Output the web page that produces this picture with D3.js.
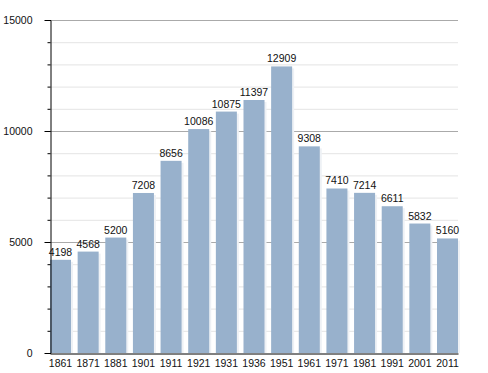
<!DOCTYPE html>
<html>
<head>
<meta charset="utf-8">
<script src="https://cdn.jsdelivr.net/npm/d3@7"></script>
<style>
  body { margin: 0; background: #fff; }
  svg text { font-family: "Liberation Sans", Arial, sans-serif; font-size: 10.5px; fill: #111; }
</style>
</head>
<body>
<svg id="chart"></svg>
<script>
// population by census year
var years = ["1861", "1871", "1881", "1901", "1911", "1921", "1931", "1936", "1951", "1961", "1971", "1981", "1991", "2001", "2011"];
var population = [4198, 4568, 5200, 7208, 8656, 10086, 10875, 11397, 12909, 9308, 7410, 7214, 6611, 5832, 5160];
var majorTicks = [0, 5000, 10000, 15000];
var minorTicks = d3.range(0, 15001, 1000);

var width = 488, height = 373;
var margin = { left: 50, right: 30, top: 20, bottom: 20 };

var svg = d3.select('#chart')
  .attr('width', width)
  .attr('height', height);

var x = d3.scaleBand()
  .domain(years)
  .range([margin.left, width - margin.right])
  .paddingInner(0.24)
  .paddingOuter(0);

var y = d3.scaleLinear()
  .domain([0, 15000])
  .range([height - margin.bottom, margin.top]);

// minor grid
svg.append('g')
  .selectAll('line')
  .data(minorTicks.filter(function (d) { return d % 5000 !== 0; }))
  .enter().append('line')
  .attr('x1', margin.left)
  .attr('x2', width - margin.right)
  .attr('y1', function (d) { return y(d) + 0.5; })
  .attr('y2', function (d) { return y(d) + 0.5; })
  .attr('stroke', '#e4e4e4');

// major grid
svg.append('g')
  .selectAll('line')
  .data(majorTicks.filter(function (d) { return d > 0; }))
  .enter().append('line')
  .attr('x1', margin.left)
  .attr('x2', width - margin.right)
  .attr('y1', function (d) { return y(d) + 0.5; })
  .attr('y2', function (d) { return y(d) + 0.5; })
  .attr('stroke', '#aaa');

// soft shadow behind bars
svg.append('g')
  .selectAll('rect')
  .data(population)
  .enter().append('rect')
  .attr('x', function (d, i) { return x(years[i]) + 2; })
  .attr('y', function (d) { return y(d) + 2; })
  .attr('width', x.bandwidth())
  .attr('height', function (d) { return y(0) - y(d) - 2; })
  .attr('fill', '#eef1f5');

// bars
svg.append('g')
  .selectAll('rect')
  .data(population)
  .enter().append('rect')
  .attr('x', function (d, i) { return x(years[i]); })
  .attr('y', function (d) { return y(d); })
  .attr('width', x.bandwidth())
  .attr('height', function (d) { return y(0) - y(d); })
  .attr('fill', '#98b1cc');

// value labels
svg.append('g')
  .selectAll('text')
  .data(population)
  .enter().append('text')
  .attr('x', function (d, i) { return x(years[i]) + x.bandwidth() / 2; })
  .attr('y', function (d) { return y(d) - 4; })
  .attr('text-anchor', 'middle')
  .text(function (d) { return d; });

// y axis
var yAxis = svg.append('g')
  .attr('transform', 'translate(' + (margin.left + 0.5) + ',0)')
  .call(d3.axisLeft(y).tickValues(minorTicks).tickSize(3).tickFormat(''));
yAxis.select('.domain').attr('stroke', '#000');
yAxis.selectAll('.tick line').attr('stroke', '#000');

var yMajor = svg.append('g')
  .attr('transform', 'translate(' + (margin.left + 0.5) + ',0)')
  .call(d3.axisLeft(y).tickValues(majorTicks).tickSize(6).tickPadding(12).tickFormat(d3.format('d')));
yMajor.select('.domain').remove();
yMajor.selectAll('.tick line').attr('stroke', '#000');
yMajor.selectAll('text').style('font-size', '10.5px').attr('fill', '#111');

// x axis
var xAxis = svg.append('g')
  .attr('transform', 'translate(0,' + (y(0) + 0.5) + ')')
  .call(d3.axisBottom(x).tickSize(0).tickPadding(6).tickSizeOuter(0));
xAxis.select('.domain').attr('stroke', '#000');
xAxis.selectAll('text').style('font-size', '10.5px').attr('fill', '#111');
</script>
</body>
</html>
